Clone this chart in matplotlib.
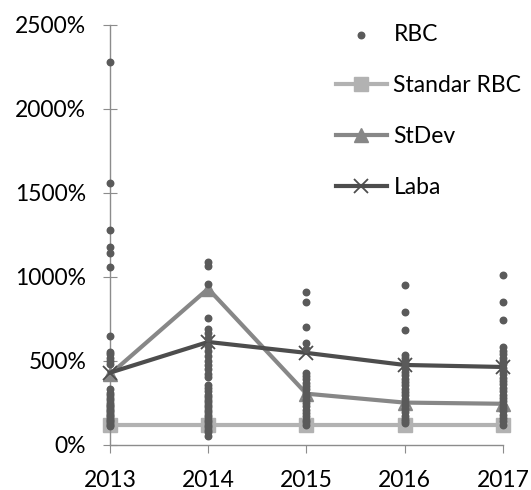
import numpy as np
import matplotlib
matplotlib.use("Agg")
import matplotlib.pyplot as plt
from matplotlib.ticker import FuncFormatter

plt.rcParams['font.family'] = ['Lato', 'DejaVu Sans']

years = [2013, 2014, 2015, 2016, 2017]

# RBC values per year (percent)
rbc_2013 = [2280, 1560, 1280, 1180, 1140, 1060, 650, 555, 540, 520, 500, 480,
            330, 310, 295, 280, 265, 250, 240, 230, 220, 210, 200, 190, 180,
            170, 160, 150, 140, 130, 120, 110]
rbc_2014 = [1090, 1065, 960, 755, 690, 665, 635, 590, 560, 530, 500, 475, 450,
            425, 405, 355, 340, 320, 300, 285, 270, 255, 240, 225, 210, 195,
            180, 165, 150, 135, 120, 105, 90, 75, 55]
rbc_2015 = [910, 850, 700, 605, 570, 430, 410, 390, 370, 350, 330, 310, 290,
            270, 250, 230, 210, 190, 170, 150, 135, 120]
rbc_2016 = [955, 790, 685, 535, 515, 495, 475, 455, 435, 415, 395, 375, 355,
            335, 315, 295, 275, 255, 235, 215, 195, 175, 155, 140, 130]
rbc_2017 = [1010, 850, 745, 580, 560, 540, 520, 500, 480, 460, 440, 420, 400,
            380, 360, 340, 320, 300, 280, 260, 240, 220, 200, 180, 160, 140, 120]
rbc = [rbc_2013, rbc_2014, rbc_2015, rbc_2016, rbc_2017]

standar_rbc = [120, 120, 120, 120, 120]
stdev = [420, 930, 305, 252, 245]
laba = [430, 613, 548, 476, 464]

fig = plt.figure(figsize=(5.31, 4.90), dpi=100)
ax = fig.add_axes([0.207, 0.092, 0.740, 0.857])

xs = []
ys = []
for yr, vals in zip(years, rbc):
    xs += [yr] * len(vals)
    ys += vals

ax.plot(years, standar_rbc, color='#b2b2b2', lw=3, marker='s', markersize=10.5,
        label='Standar RBC', clip_on=False, zorder=2)
ax.plot(years, stdev, color='#878787', lw=3, marker='^', markersize=10,
        label='StDev', clip_on=False, zorder=3)
ax.plot(years, laba, color='#4d4d4d', lw=3, marker='x', markersize=10,
        markeredgewidth=1.3, label='Laba', clip_on=False, zorder=4)
ax.scatter(xs, ys, s=22, color='#5a5a5a', label='RBC', clip_on=False, zorder=5)

ax.set_xlim(2013, 2017)
ax.set_ylim(0, 2500)
ax.set_xticks(years)
ax.set_yticks(range(0, 2501, 500))
ax.yaxis.set_major_formatter(FuncFormatter(lambda v, p: f'{v:.0f}%'))

for s in ['top', 'right']:
    ax.spines[s].set_visible(False)
for s in ['left', 'bottom']:
    ax.spines[s].set_color('#8c8c8c')
    ax.spines[s].set_linewidth(1)
ax.tick_params(axis='y', direction='inout', length=10, color='#8c8c8c',
               labelsize=16.5, pad=12)
ax.tick_params(axis='x', direction='out', length=6, color='#8c8c8c',
               labelsize=16.5, pad=12)

h, l = ax.get_legend_handles_labels()
order = [3, 0, 1, 2]
ax.legend([h[i] for i in order], [l[i] for i in order], frameon=False,
          loc='upper left', bbox_to_anchor=(0.535, 1.04), fontsize=16.5,
          handlelength=2.2, handletextpad=0.3, labelspacing=1.3,
          scatterpoints=1, borderaxespad=0.3)

fig.savefig('out.png', dpi=100)
